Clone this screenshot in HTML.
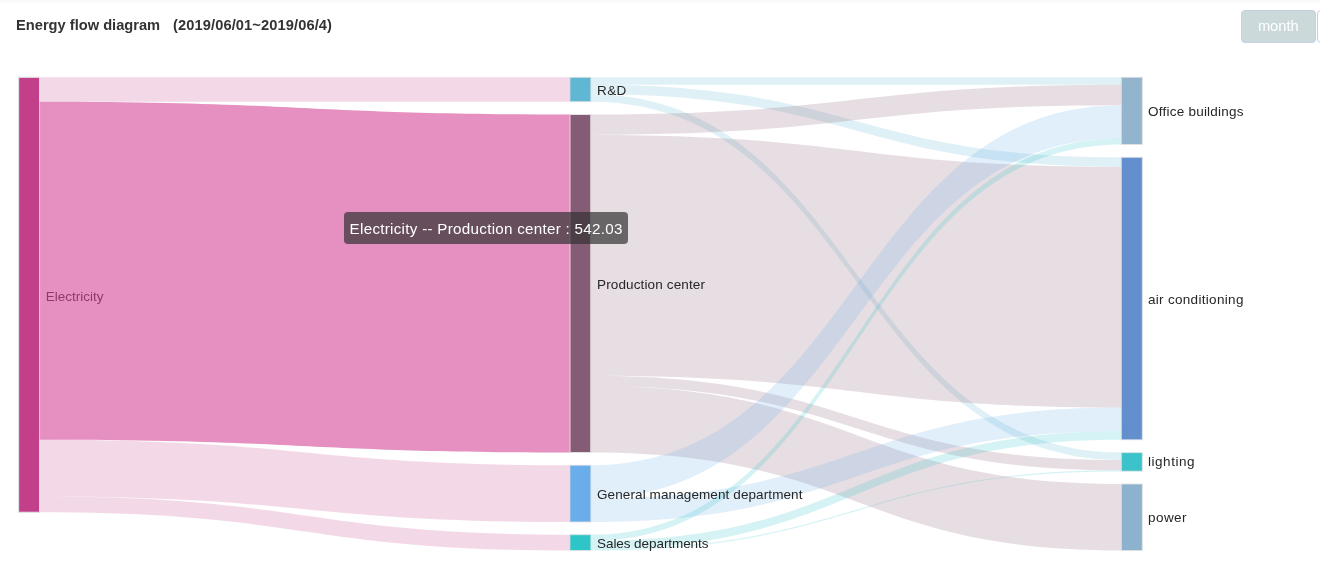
<!DOCTYPE html>
<html>
<head>
<meta charset="utf-8">
<title>Energy flow diagram</title>
<style>
html,body{margin:0;padding:0;background:#fff;}
body{width:1320px;height:576px;overflow:hidden;position:relative;font-family:"Liberation Sans",sans-serif;}
.topshade{position:absolute;left:0;top:0;width:1320px;height:4px;background:linear-gradient(#f7f7f7 0%,#f9f9f9 40%,#ffffff 100%);}
.title{position:absolute;left:16px;top:17px;font-size:14.667px;line-height:17px;font-weight:bold;color:#333;white-space:pre;}
.title .d{position:absolute;left:157px;top:0;letter-spacing:0.1px;}
.btn{position:absolute;top:10px;height:31px;border:1px solid #c6d0de;border-radius:4px;box-sizing:content-box;font-size:14.667px;line-height:31px;text-align:center;}
.btn.m{left:1241px;width:72.5px;background:#ccd9db;color:#fff;}
.btn.n{left:1316.5px;width:60px;background:#fff;color:#606266;}
svg{position:absolute;left:0;top:0;}
svg text{font-family:"Liberation Sans",sans-serif;font-size:13.5px;fill:#262626;}
.tip{position:absolute;left:344px;top:212px;width:284px;height:32px;box-sizing:border-box;border-radius:4px;background:rgba(50,50,50,0.7);color:#fff;font-size:15.2px;letter-spacing:0.28px;line-height:22px;padding:5.7px 0 4.3px 5.6px;white-space:nowrap;}
</style>
</head>
<body>
<div class="topshade"></div>
<div class="title"><span>Energy flow diagram</span><span class="d">(2019/06/01~2019/06/4)</span></div>
<div class="btn m">month</div>
<div class="btn n"></div>
<svg width="1320" height="576" viewBox="0 0 1320 576">
<g>
<path d="M39.1 77.3C304.75 77.3 304.75 77.3 570.4 77.3L570.4 101.7C304.75 101.7 304.75 101.7 39.1 101.7Z" fill="#c14089" fill-opacity="0.2"/>
<path d="M39.1 439.7C304.75 439.7 304.75 465.2 570.4 465.2L570.4 522C304.75 522 304.75 496.5 39.1 496.5Z" fill="#c14089" fill-opacity="0.2"/>
<path d="M39.1 496.5C304.75 496.5 304.75 534.7 570.4 534.7L570.4 550.5C304.75 550.5 304.75 512.3 39.1 512.3Z" fill="#c14089" fill-opacity="0.2"/>
<path d="M590.4 77.3C856.1 77.3 856.1 77.3 1121.8 77.3L1121.8 84.8C856.1 84.8 856.1 84.8 590.4 84.8Z" fill="#60b7d3" fill-opacity="0.2"/>
<path d="M590.4 84.8C856.1 84.8 856.1 157.3 1121.8 157.3L1121.8 166.7C856.1 166.7 856.1 94.2 590.4 94.2Z" fill="#60b7d3" fill-opacity="0.2"/>
<path d="M590.4 94.2C856.1 94.2 856.1 452.6 1121.8 452.6L1121.8 460.1C856.1 460.1 856.1 101.7 590.4 101.7Z" fill="#60b7d3" fill-opacity="0.2"/>
<path d="M590.4 114.5C856.1 114.5 856.1 84.8 1121.8 84.8L1121.8 105.2C856.1 105.2 856.1 134.9 590.4 134.9Z" fill="#855c75" fill-opacity="0.2"/>
<path d="M590.4 134.9C856.1 134.9 856.1 166.7 1121.8 166.7L1121.8 407.6C856.1 407.6 856.1 375.8 590.4 375.8Z" fill="#855c75" fill-opacity="0.2"/>
<path d="M590.4 375.8C856.1 375.8 856.1 460.1 1121.8 460.1L1121.8 470.3C856.1 470.3 856.1 386 590.4 386Z" fill="#855c75" fill-opacity="0.2"/>
<path d="M590.4 386C856.1 386 856.1 484 1121.8 484L1121.8 550.5C856.1 550.5 856.1 452.5 590.4 452.5Z" fill="#855c75" fill-opacity="0.2"/>
<path d="M590.4 465.2C856.1 465.2 856.1 105.2 1121.8 105.2L1121.8 138.3C856.1 138.3 856.1 498.3 590.4 498.3Z" fill="#69adea" fill-opacity="0.2"/>
<path d="M590.4 498.3C856.1 498.3 856.1 407.6 1121.8 407.6L1121.8 431.3C856.1 431.3 856.1 522 590.4 522Z" fill="#69adea" fill-opacity="0.2"/>
<path d="M590.4 534.7C856.1 534.7 856.1 138.3 1121.8 138.3L1121.8 144.5C856.1 144.5 856.1 540.9 590.4 540.9Z" fill="#2ec5c8" fill-opacity="0.2"/>
<path d="M590.4 540.9C856.1 540.9 856.1 431.3 1121.8 431.3L1121.8 439.7C856.1 439.7 856.1 549.3 590.4 549.3Z" fill="#2ec5c8" fill-opacity="0.2"/>
<path d="M590.4 549.3C856.1 549.3 856.1 470.3 1121.8 470.3L1121.8 471.5C856.1 471.5 856.1 550.5 590.4 550.5Z" fill="#2ec5c8" fill-opacity="0.2"/>
</g>
<g>
<rect x="18.6" y="77.3" width="21" height="435" fill="#c14089" stroke="#e2e2e2" stroke-opacity="0.8" stroke-width="1"/>
<rect x="569.9" y="77.3" width="21" height="24.4" fill="#60b7d3" stroke="#e2e2e2" stroke-opacity="0.8" stroke-width="1"/>
<rect x="569.9" y="114.5" width="21" height="338" fill="#855c75" stroke="#e2e2e2" stroke-opacity="0.8" stroke-width="1"/>
<rect x="569.9" y="465.2" width="21" height="56.8" fill="#69adea" stroke="#e2e2e2" stroke-opacity="0.8" stroke-width="1"/>
<rect x="569.9" y="534.7" width="21" height="15.8" fill="#2ec5c8" stroke="#e2e2e2" stroke-opacity="0.8" stroke-width="1"/>
<rect x="1121.3" y="77.3" width="21" height="67.2" fill="#92b4cc" stroke="#e2e2e2" stroke-opacity="0.8" stroke-width="1"/>
<rect x="1121.3" y="157.3" width="21" height="282.5" fill="#638fcf" stroke="#e2e2e2" stroke-opacity="0.8" stroke-width="1"/>
<rect x="1121.3" y="452.6" width="21" height="18.6" fill="#3cc3ca" stroke="#e2e2e2" stroke-opacity="0.8" stroke-width="1"/>
<rect x="1121.3" y="484" width="21" height="66.5" fill="#8cb2ce" stroke="#e2e2e2" stroke-opacity="0.8" stroke-width="1"/>
</g>
<g>
<text x="45.8" y="300.75" textLength="57.7" lengthAdjust="spacing">Electricity</text>
<text x="597.0" y="94.7" textLength="29.3" lengthAdjust="spacing">R&amp;D</text>
<text x="597.0" y="288.7" textLength="108" lengthAdjust="spacing">Production center</text>
<text x="597.0" y="498.7" textLength="205.5" lengthAdjust="spacing">General management department</text>
<text x="597.0" y="547.8" textLength="111.5" lengthAdjust="spacing">Sales departments</text>
<text x="1147.9" y="115.6" textLength="95.7" lengthAdjust="spacing">Office buildings</text>
<text x="1147.9" y="304.4" textLength="95.5" lengthAdjust="spacing">air conditioning</text>
<text x="1147.9" y="466.1" textLength="46.7" lengthAdjust="spacing">lighting</text>
<text x="1147.9" y="522.3" textLength="38.7" lengthAdjust="spacing">power</text>
</g>
<g>
<path d="M39.1 101.7C304.75 101.7 304.75 114.5 570.4 114.5L570.4 452.5C304.75 452.5 304.75 439.7 39.1 439.7Z" fill="rgb(212,70,150)" fill-opacity="0.6"/>
<rect x="18.6" y="77.3" width="21" height="435" fill="none" stroke="#e2e2e2" stroke-opacity="0.8" stroke-width="1"/>
<rect x="569.9" y="114.5" width="21" height="338" fill="none" stroke="#e2e2e2" stroke-opacity="0.8" stroke-width="1"/>
</g>
</svg>
<div class="tip">Electricity -- Production center : 542.03</div>
</body>
</html>
